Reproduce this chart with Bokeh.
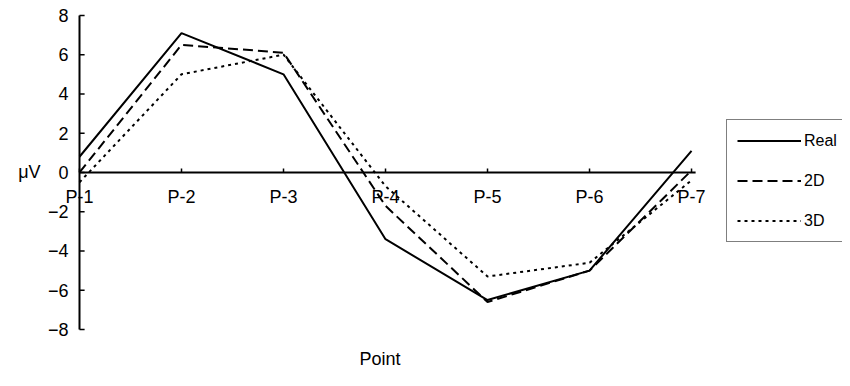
from bokeh.plotting import figure
from bokeh.models import Range1d, Legend, LegendItem, Title
from bokeh.core.properties import value
from bokeh.embed import file_html
from bokeh.resources import INLINE

categories = ["P-1", "P-2", "P-3", "P-4", "P-5", "P-6", "P-7"]
real = [0.8, 7.1, 5.0, -3.4, -6.5, -5.0, 1.1]
d2 = [0.0, 6.5, 6.1, -1.7, -6.6, -5.0, 0.1]
d3 = [-0.5, 5.0, 6.0, -0.7, -5.3, -4.6, -0.4]
y_ticks = [-8, -6, -4, -2, 0, 2, 4, 6, 8]
y_tick_labels = [str(t).replace("-", "\u2212") for t in y_ticks]

FONT = "Liberation Sans"
xs = list(range(len(categories)))

p = figure(width=842, height=378, x_range=Range1d(-0.7745, 7.48), y_range=Range1d(-8.815, 8.76),
           output_backend="svg", toolbar_location=None,
           min_border_left=0, min_border_right=0, min_border_top=0, min_border_bottom=33)
p.outline_line_color = None
p.xgrid.visible = False
p.ygrid.visible = False
p.xaxis.visible = False
p.yaxis.visible = False

# vertical value axis drawn at the first category
p.segment(x0=[xs[0]], y0=[y_ticks[0]], x1=[xs[0]], y1=[y_ticks[-1]], line_color="black", line_width=2)
p.segment(x0=[xs[0]] * len(y_ticks), y0=y_ticks, x1=[xs[0] + 0.05] * len(y_ticks), y1=y_ticks,
          line_color="black", line_width=1.5)
p.text(x=[xs[0]] * len(y_ticks), y=y_ticks, text=y_tick_labels, x_offset=-11, text_align="right",
       text_baseline="middle", text_font=value(FONT), text_font_size="18px", text_color="black")
p.text(x=[xs[0]], y=[0], text=["μV"], x_offset=-39, text_align="right", text_baseline="middle",
       text_font=value(FONT), text_font_size="18px", text_color="black")

# zero baseline acting as the category axis
p.segment(x0=[xs[0]], y0=[0], x1=[xs[-1] + 0.04], y1=[0], line_color="black", line_width=2)
p.segment(x0=xs, y0=[0] * len(xs), x1=xs, y1=[0.2] * len(xs), line_color="black", line_width=1.5)
p.text(x=xs, y=[0] * len(xs), text=categories, y_offset=15, text_align="center",
       text_baseline="top", text_font=value(FONT), text_font_size="18px", text_color="black")

r1 = p.line(xs, real, line_color="black", line_width=2)
r2 = p.line(xs, d2, line_color="black", line_width=2, line_dash="10 5")
r3 = p.line(xs, d3, line_color="black", line_width=2, line_dash="3 4")

legend = Legend(items=[LegendItem(label="Real", renderers=[r1]),
                       LegendItem(label="2D", renderers=[r2]),
                       LegendItem(label="3D", renderers=[r3])],
                location=(726, 103), margin=0, padding=10, spacing=19,
                glyph_width=64, glyph_height=21, label_height=21, label_standoff=3,
                label_text_font=FONT, label_text_font_size="16px", label_text_color="black",
                border_line_color="black", border_line_width=1.5,
                background_fill_color="white", background_fill_alpha=1)
p.add_layout(legend)

p.add_layout(Title(text="Point", align="left", offset=359, text_font=FONT,
                   text_font_size="18px", text_font_style="normal", text_color="black",
                   standoff=3), "below")

open("out.html", "w").write(file_html(p, INLINE))
